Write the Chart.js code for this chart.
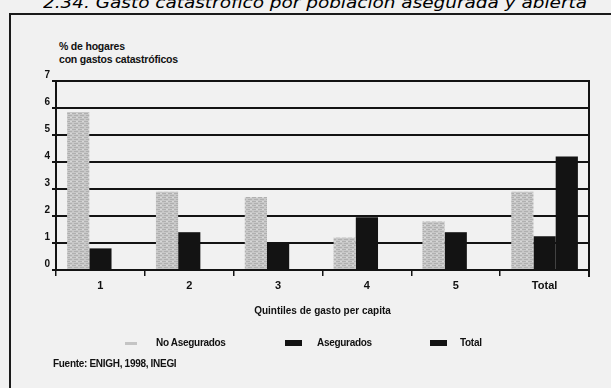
<!DOCTYPE html>
<html lang="es">
<head>
<meta charset="utf-8">
<title>Gasto catastrófico por población asegurada y abierta</title>
<script src="https://cdn.jsdelivr.net/npm/chart.js@4.4.1/dist/chart.umd.min.js"></script>
<style>
  html, body { margin: 0; padding: 0; }
  body { width: 611px; height: 388px; position: relative; overflow: hidden; background: #f1f1f1; }
  #frame { position: absolute; left: 9px; top: 13px; width: 640px; height: 420px;
           border-left: 2px solid #1a1a1a; border-top: 2px solid #1a1a1a; }
  #title { position: absolute; left: 43px; top: -7px; white-space: nowrap; transform-origin: 0 0;
           font-family: "DejaVu Sans", sans-serif; font-style: italic; font-size: 16px; color: #000; }
  canvas#c { position: absolute; left: 0; top: 0; }
  .txt { position: absolute; font-family: "Liberation Sans Narrow", "Liberation Sans", sans-serif;
         font-weight: bold; color: #111; white-space: nowrap; }
  #ytitle { left: 59px; top: 40px; font-size: 10.5px; line-height: 13px; letter-spacing: -0.2px; }
  #source { left: 53px; top: 358px; font-size: 10px; letter-spacing: -0.3px; }
  #legend { position: absolute; left: 0; top: 336px; width: 611px; height: 14px; }
  .item { position: absolute; top: 0; height: 14px; }
  .sw { position: absolute; }
  .lab { position: absolute; top: 0; font-size: 10px; line-height: 14px; letter-spacing: -0.3px; }
</style>
</head>
<body>
<div id="frame"></div>
<div id="title">2.34. Gasto catastrófico por población asegurada y abierta</div>
<div class="txt" id="ytitle">% de hogares<br>con gastos catastróficos</div>
<canvas id="c" width="611" height="388"></canvas>
<div id="legend"></div>
<div class="txt" id="source">Fuente: ENIGH, 1998, INEGI</div>

<script>
// Categories: spending quintiles plus the overall total
const categories = ['1', '2', '3', '4', '5', 'Total'];

// % of households with catastrophic spending
const noAsegurados = [5.85, 2.9, 2.7, 1.2, 1.8, 2.9];
const asegurados   = [0.8, 1.4, 1.0, 1.95, 1.4, 1.25];
const total        = [null, null, null, null, null, 4.2];

const seriesNames = ['No Asegurados', 'Asegurados', 'Total'];
const yTicks = [0, 1, 2, 3, 4, 5, 6, 7];

// Stippled grey fill for the uninsured series
function greyPattern() {
  const p = document.createElement('canvas');
  p.width = 6; p.height = 4;
  const g = p.getContext('2d');
  g.fillStyle = '#c8c8c8'; g.fillRect(0, 0, 6, 4);
  g.fillStyle = '#b0b0b0'; g.fillRect(0, 1, 4, 1); g.fillRect(2, 3, 4, 1);
  g.fillStyle = '#d8d8d8'; g.fillRect(4, 1, 2, 1);
  return g.createPattern(p, 'repeat');
}
const grey = greyPattern();
const black = '#131313';

// Title spans the frame width
(function fitTitle() {
  const t = document.getElementById('title');
  const w = t.getBoundingClientRect().width;
  t.style.transform = 'scaleX(' + (544 / w) + ')';
})();

// Closes the plot box on the right side
const rightEdge = {
  id: 'rightEdge',
  afterDraw(chart) {
    const { ctx, chartArea: a } = chart;
    ctx.save();
    ctx.strokeStyle = black;
    ctx.lineWidth = 2;
    ctx.beginPath();
    ctx.moveTo(a.right, a.top - 1);
    ctx.lineTo(a.right, a.bottom + 7);
    ctx.stroke();
    ctx.restore();
  }
};

const font = { family: '"Liberation Sans Narrow", "Liberation Sans", sans-serif', weight: 'bold', size: 11 };

const chart = new Chart(document.getElementById('c'), {
  type: 'bar',
  data: {
    labels: categories,
    datasets: [
      { label: seriesNames[0], data: noAsegurados, backgroundColor: grey, borderWidth: 0 },
      { label: seriesNames[1], data: asegurados, backgroundColor: black, borderWidth: 0 },
      { label: seriesNames[2], data: total, backgroundColor: black, borderWidth: 0 }
    ]
  },
  options: {
    responsive: false,
    animation: false,
    events: [],
    layout: { padding: { top: 81, right: 22, bottom: 68, left: 0 } },
    datasets: { bar: { categoryPercentage: 0.75, barPercentage: 1.0 } },
    plugins: { legend: { display: false }, tooltip: { enabled: false } },
    scales: {
      x: {
        offset: true,
        afterFit(s) { s.height = 50; },
        grid: { display: true, drawOnChartArea: false, drawTicks: true, tickLength: 6, color: black, lineWidth: 1.5, offset: true },
        border: { display: true, color: black, width: 2 },
        ticks: { color: '#111', font: { ...font, size: 11 }, padding: 3 },
        title: { display: true, text: 'Quintiles de gasto per capita', color: '#111', font: { ...font, size: 10 }, padding: { top: 0, bottom: 3 } }
      },
      y: {
        min: 0, max: 7,
        afterFit(s) { s.width = 56; },
        afterBuildTicks(s) { s.ticks = yTicks.map(v => ({ value: v })); },
        grid: { color: black, lineWidth: 2, tickLength: 4, drawTicks: true },
        border: { display: true, color: black, width: 2 },
        ticks: { color: '#111', font: { ...font, size: 10 }, padding: 2, labelOffset: -6 }
      }
    }
  },
  plugins: [rightEdge]
});

// Legend row built from the chart's datasets
(function buildLegend() {
  const legend = document.getElementById('legend');
  const spots = [
    { sw: 125, sww: 12, swh: 3, text: 156 },
    { sw: 285, sww: 17, swh: 6, text: 317 },
    { sw: 430, sww: 17, swh: 6, text: 460 }
  ];
  chart.data.datasets.forEach((ds, i) => {
    const s = spots[i];
    const sw = document.createElement('div');
    sw.className = 'sw';
    sw.style.left = s.sw + 'px';
    sw.style.top = (7 - s.swh / 2) + 'px';
    sw.style.width = s.sww + 'px';
    sw.style.height = s.swh + 'px';
    sw.style.background = i === 0 ? '#c4c4c4' : black;
    legend.appendChild(sw);
    const lab = document.createElement('div');
    lab.className = 'txt lab';
    lab.style.left = s.text + 'px';
    lab.textContent = ds.label;
    legend.appendChild(lab);
  });
})();
</script>
</body>
</html>
